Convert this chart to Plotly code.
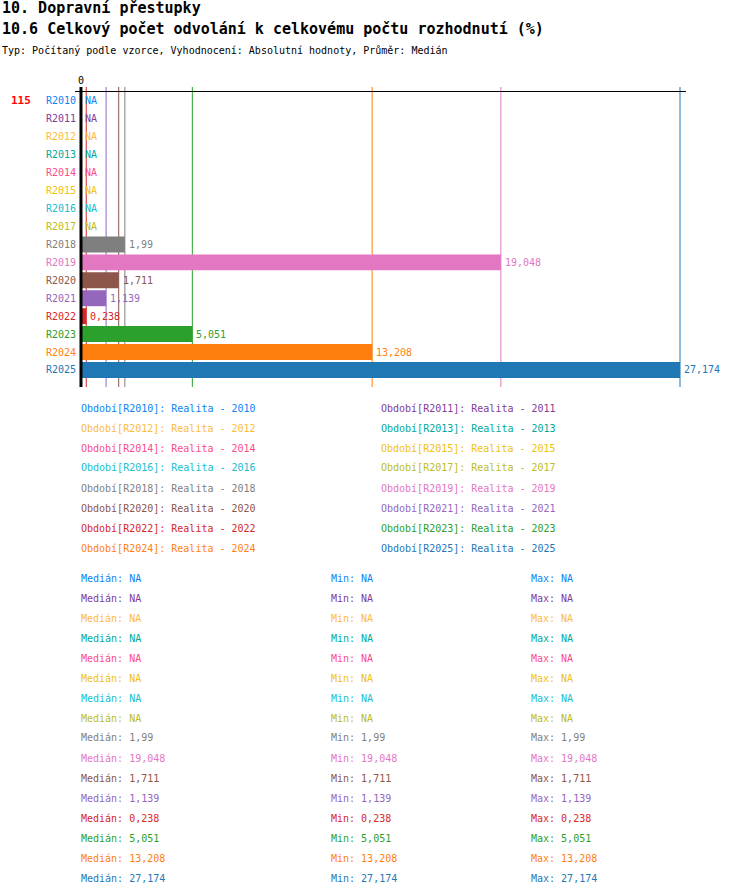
# Import Modules
import plotly.graph_objects as go

# Data
categories = ["R2010", "R2011", "R2012", "R2013", "R2014", "R2015", "R2016", "R2017",
              "R2018", "R2019", "R2020", "R2021", "R2022", "R2023", "R2024", "R2025"]
values = [None, None, None, None, None, None, None, None,
          1.99, 19.048, 1.711, 1.139, 0.238, 5.051, 13.208, 27.174]
medians = values
minimums = values
maximums = values
colors = ["#0b84f5", "#7f3c9a", "#fbbc3c", "#00a99d", "#fb4b8b", "#f0c20c", "#17becf", "#bcbd22",
          "#7f7f7f", "#e377c2", "#8c564b", "#9467bd", "#d62728", "#2ca02c", "#ff7f0e", "#1f77b4"]
legend_labels = ["Období[{}]: Realita - {}".format(c, c[1:]) for c in categories]
count_label = "115"

title1 = "10. Dopravní přestupky"
title2 = "10.6 Celkový počet odvolání k celkovému počtu rozhodnutí (%)"
subtitle = "Typ: Počítaný podle vzorce, Vyhodnocení: Absolutní hodnoty, Průměr: Medián"

# Page geometry (pixels)
W, H = 750, 896
L, R, T, B = 75, 686, 92, 387
FONT = "DejaVu Sans Mono"


def px(x):
    return (x - L) / (R - L)


def py(y):
    return (B - y) / (B - T)


def fmt(v):
    return "NA" if v is None else "{:g}".format(v).replace(".", ",")


# Create trace
trace = go.Bar(y=categories,
               x=values,
               orientation="h",
               width=0.89,
               marker=dict(color=colors, line=dict(width=0)),
               hoverinfo="skip")

fig = go.Figure(data=[trace])

# Reference lines at each value
vmax = max(v for v in values if v is not None)
for v, c in zip(values, colors):
    if v is None:
        continue
    fig.add_shape(type="line", xref="x", yref="paper", x0=v, x1=v, y0=0, y1=py(87),
                  line=dict(color=c, width=1), layer="below")
fig.add_shape(type="line", xref="x", yref="paper", x0=0, x1=0, y0=0, y1=py(87),
              line=dict(color="black", width=3), layer="above")

ann = []
# Titles
ann.append(dict(text="<b>" + title1 + "</b>", x=px(0), y=py(8), font=dict(size=15)))
ann.append(dict(text="<b>" + title2 + "</b>", x=px(0), y=py(29), font=dict(size=15)))
ann.append(dict(text=subtitle, x=px(0), y=py(50), font=dict(size=10)))
ann.append(dict(text="<b>" + count_label + "</b>", x=px(9), y=py(101),
                font=dict(size=11, color="#ff0000")))
ann = [dict(a, xref="paper", yref="paper", xanchor="left", yanchor="middle",
            showarrow=False) for a in ann]

# Category labels and value labels
for cat, v, c in zip(categories, values, colors):
    ann.append(dict(text=cat, xref="x", yref="y", x=0, y=cat, xanchor="right",
                    xshift=-3, showarrow=False, font=dict(size=10, color=c)))
    ann.append(dict(text=fmt(v), xref="x", yref="y", x=0 if v is None else v, y=cat,
                    xanchor="left", xshift=2, showarrow=False, font=dict(size=10, color=c)))

# Legend block (two columns)
for i, (lab, c) in enumerate(zip(legend_labels, colors)):
    col, row = i % 2, i // 2
    ann.append(dict(text=lab, xref="paper", yref="paper", x=px(79 + 300 * col),
                    y=py(408 + 20 * row), xanchor="left", yanchor="middle",
                    showarrow=False, font=dict(size=10, color=c)))

# Statistics block
for i, c in enumerate(colors):
    y = py(578 + 20 * i)
    for xp, lab, vals in [(79, "Medián", medians), (329, "Min", minimums), (529, "Max", maximums)]:
        ann.append(dict(text="{}: {}".format(lab, fmt(vals[i])), xref="paper", yref="paper",
                        x=px(xp), y=y, xanchor="left", yanchor="middle",
                        showarrow=False, font=dict(size=10, color=c)))

# Create layout
fig.update_layout(width=W, height=H,
                  margin=dict(l=L, r=W - R, t=T, b=H - B, pad=0),
                  paper_bgcolor="white", plot_bgcolor="white",
                  font=dict(family=FONT, size=10, color="black"),
                  showlegend=False,
                  bargap=0.11,
                  xaxis=dict(range=[-0.01 * vmax, 1.01 * vmax], side="top",
                             showgrid=False, zeroline=False, showline=True,
                             linecolor="black", linewidth=1,
                             tickvals=[0], ticktext=["0"], ticks="",
                             ticklabelstandoff=3,
                             tickfont=dict(size=10, color="black")),
                  yaxis=dict(categoryorder="array", categoryarray=categories,
                             range=[15.95, -0.5], showgrid=False, zeroline=False,
                             showticklabels=False, showline=False, ticks=""),
                  annotations=ann)

# Remove the default page margin so the figure sits at the window corner
fig.write_html("out.html", config={"displayModeBar": False},
               post_script="document.body.style.margin='0';")
